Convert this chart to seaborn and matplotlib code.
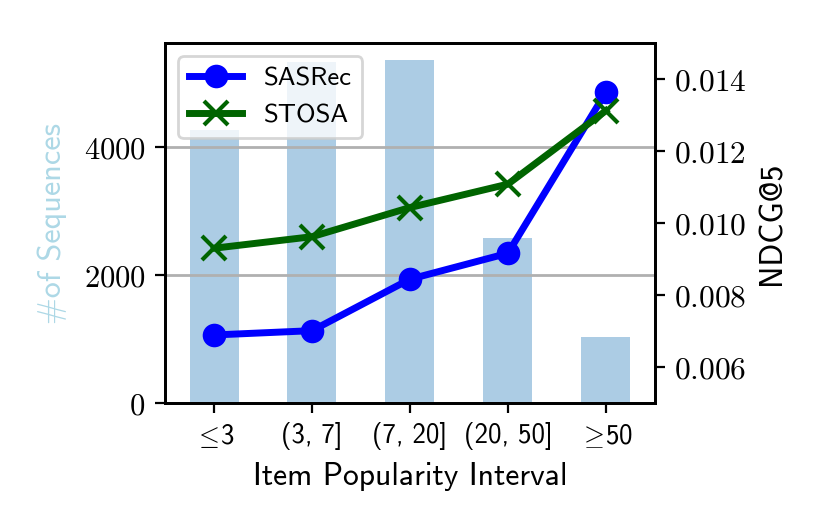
import numpy as np
import pandas as pd
import seaborn as sns
import matplotlib
matplotlib.use('Agg')
import matplotlib.pyplot as plt
from matplotlib.ticker import FuncFormatter

# data
intervals = ['$\\leq\\!$3', '(3, 7]', '(7, 20]', '(20, 50]', '$\\geq\\!$50']
num_sequences = [4270, 5330, 5360, 2580, 1030]
sasrec_ndcg = [0.00689, 0.00701, 0.00844, 0.00916, 0.01363]
stosa_ndcg = [0.00930, 0.00962, 0.01043, 0.01108, 0.01312]

plt.rcParams['mathtext.fontset'] = 'cm'
plt.rcParams['axes.linewidth'] = 1.0
sans = 'cmss10'

fig = plt.figure(figsize=(8.31 / 2, 5.31 / 2), dpi=200)
ax1 = fig.add_axes([0.1986, 0.241, 0.5894, 0.678])

df = pd.DataFrame({'interval': intervals, 'count': num_sequences})
sns.barplot(data=df, x='interval', y='count', ax=ax1, width=0.5,
            color='#acccE4', saturation=1)
ax1.set_ylim(0, max(num_sequences) * 1.05)
ax1.set_yticks([0, 2000, 4000])
ax1.yaxis.set_major_formatter(FuncFormatter(lambda v, p: '$%d$' % v))
ax1.tick_params(axis='y', labelsize=11)
ax1.tick_params(axis='x', labelsize=9.7)
for t in ax1.get_xticklabels():
    t.set_fontfamily(sans)
ax1.grid(axis='y', color='#b0b0b0', linewidth=1.0)
ax1.set_xlabel('Item Popularity Interval', fontfamily=sans, fontsize=11.4)
ax1.set_ylabel('#of Sequences', fontfamily=sans, fontsize=11.6,
               color='lightblue', labelpad=6)

ax2 = ax1.twinx()
x = np.arange(len(intervals))
sns.lineplot(x=x, y=sasrec_ndcg, ax=ax2, color='blue', marker='o',
             markersize=8.5, markeredgewidth=0, linewidth=2.5, label='SASRec')
sns.lineplot(x=x, y=stosa_ndcg, ax=ax2, color='darkgreen', marker='x',
             markersize=8.5, markeredgewidth=1.5, markeredgecolor='darkgreen',
             linewidth=2.5, label='STOSA')
ax2.set_ylim(0.005, 0.015)
ax2.set_yticks([0.006, 0.008, 0.010, 0.012, 0.014])
ax2.yaxis.set_major_formatter(FuncFormatter(lambda v, p: '$%.3f$' % v))
ax2.tick_params(axis='y', labelsize=11.3)
ax2.set_ylabel('NDCG@5', fontfamily=sans, fontsize=11.4)
ax2.set_xlim(-0.5, len(intervals) - 0.5)

leg = ax2.legend(loc='upper left', prop={'family': sans, 'size': 9.6})

fig.savefig('out.png', dpi=200)
